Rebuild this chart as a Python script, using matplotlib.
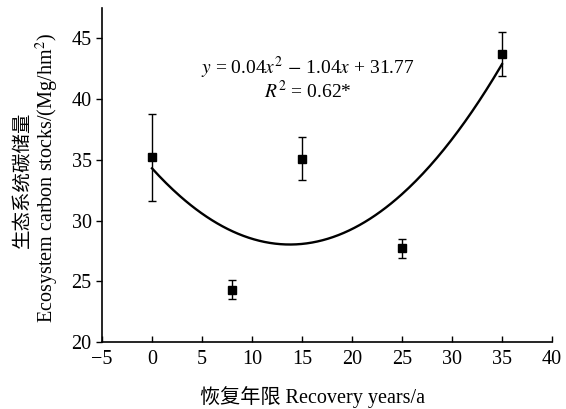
import numpy as np
import matplotlib
matplotlib.use("Agg")
import matplotlib.pyplot as plt

plt.rcParams['font.family'] = ['Liberation Serif', 'Noto Sans CJK SC']
plt.rcParams['mathtext.fontset'] = 'stix'

years = [0, 8, 15, 25, 35]
carbon = [35.2, 24.3, 35.1, 27.7, 43.7]
err = [3.6, 0.8, 1.8, 0.8, 1.8]
fit_coef = [0.033, -0.91, 34.3]  # drawn curve a, b, c

fig = plt.figure(figsize=(5.66, 4.09), dpi=100)
ax = fig.add_axes([102/566, 1-342/409, 450/566, 334/409])

xs = np.linspace(0, 35, 200)
ax.plot(xs, np.polyval(fit_coef, xs), color='black', lw=1.7)
ax.errorbar(years, carbon, yerr=err, fmt='s', color='black', ms=5.8,
            ecolor='black', elinewidth=1, capsize=3, capthick=1)

ax.set_xlim(-5, 40)
ax.set_ylim(20, 47.5)
ax.set_xticks(range(-5, 41, 5))
ax.set_xticklabels(['\u22125'] + [str(v) for v in range(0, 41, 5)])
ax.set_yticks(range(20, 46, 5))
for s in ['top', 'right']:
    ax.spines[s].set_visible(False)
for s in ['left', 'bottom']:
    ax.spines[s].set_linewidth(1.2)
ax.tick_params(axis='x', direction='in', length=4, width=1, labelsize=14.5, pad=6)
ax.tick_params(axis='y', direction='out', length=4, width=1, labelsize=14.5)

ax.text(0.458, 0.82, r'$y$ = 0.04$x^2$ $-$ 1.04$x$ + 31.77', transform=ax.transAxes,
        ha='center', va='center', fontsize=14)
ax.text(0.458, 0.752, r'$R^2$ = 0.62*', transform=ax.transAxes,
        ha='center', va='center', fontsize=14)

fig.text(312/566, 1-397/409, '恢复年限 Recovery years/a', ha='center', va='center', fontsize=14.5)
fig.text(23/566, 1-180/409, '生态系统碳储量', rotation=90, ha='center', va='center', fontsize=14,
         family=['Noto Sans CJK SC'])
fig.text(47/566, 1-178/409, 'Ecosystem carbon stocks/(Mg/hm$^2$)', rotation=90,
         ha='center', va='center', fontsize=14.5)

fig.savefig('out.png', dpi=100)
